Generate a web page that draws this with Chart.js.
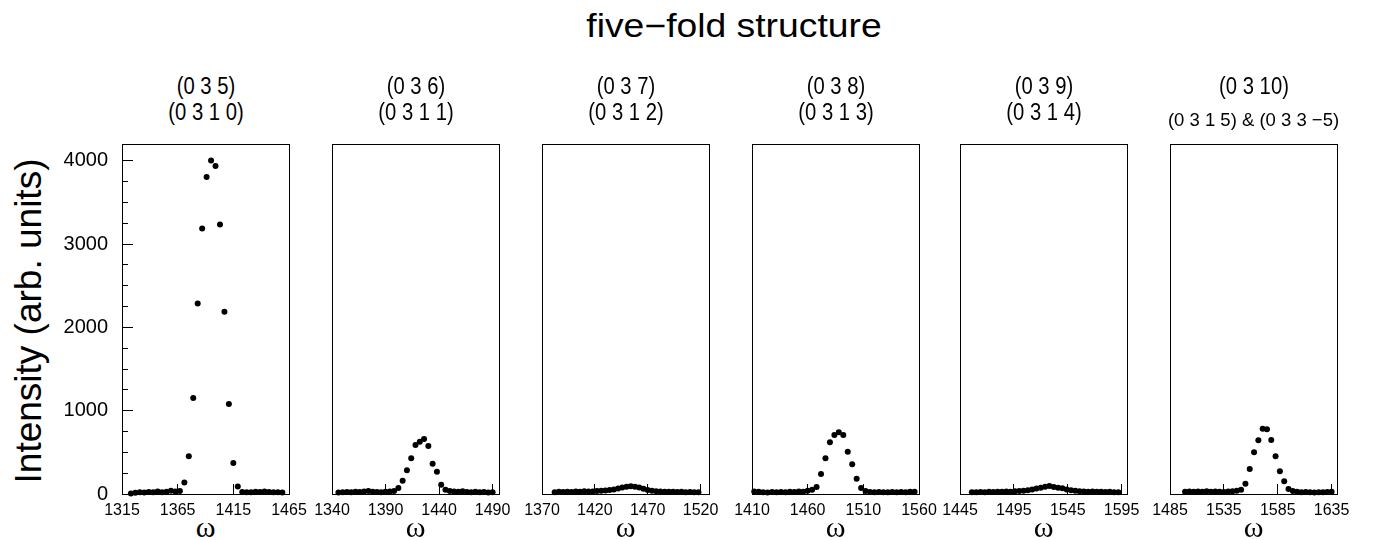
<!DOCTYPE html>
<html>
<head>
<meta charset="utf-8">
<script src="https://cdn.jsdelivr.net/npm/chart.js@4/dist/chart.umd.min.js"></script>
<style>
  html, body { margin:0; padding:0; background:#fff; }
  #wrap { position:relative; width:1375px; height:540px; overflow:hidden; background:#fff; }
  canvas { position:absolute; left:0; top:0; }
  .t { position:absolute; transform:translate(-50%,-50%); white-space:nowrap; line-height:1; color:#000; font-family:"Liberation Sans", Arial, sans-serif; }
  .om { font-family:"Liberation Serif", "DejaVu Serif", serif; font-size:30px; }
</style>
</head>
<body>
<div id="wrap"></div>
<script>
// ---------------- data ----------------
const mainTitle = "five\u2212fold structure";
const yAxisTitle = "Intensity (arb. units)";
const xAxisTitle = "\u03c9";
const panelTitles1 = ["(0 3 5)", "(0 3 6)", "(0 3 7)", "(0 3 8)", "(0 3 9)", "(0 3 10)"];
const panelTitles2 = ["(0 3 1 0)", "(0 3 1 1)", "(0 3 1 2)", "(0 3 1 3)", "(0 3 1 4)", "(0 3 1 5) & (0 3 3 \u22125)"];
const xMins = [1315, 1340, 1370, 1410, 1445, 1485];
const xMaxs = [1465, 1496, 1528, 1560, 1600, 1640];
const xTicks1 = [1315, 1365, 1415, 1465];
const xTicks2 = [1340, 1390, 1440, 1490];
const xTicks3 = [1370, 1420, 1470, 1520];
const xTicks4 = [1410, 1460, 1510, 1560];
const xTicks5 = [1445, 1495, 1545, 1595];
const xTicks6 = [1485, 1535, 1585, 1635];
const yMajorTicks = [0, 1000, 2000, 3000, 4000];
const yMinorTicks = [0, 250, 500, 750, 1000, 1250, 1500, 1750, 2000, 2250, 2500, 2750, 3000, 3250, 3500, 3750, 4000];
const yMin = 0, yMax = 4200;

const omega1 = [1323,1327,1331,1335,1339,1343,1347,1351,1355,1359,1363,1367,1371,1375,1379,1383,1387,1391,1395,1399,1403,1407,1411,1415,1419,1423,1427,1431,1435,1439,1443,1447,1451,1455,1459];
const intensity1 = [5,15,20,18,25,22,30,20,28,38,30,35,139,452,1153,2286,3187,3803,4003,3935,3235,2186,1081,372,91,25,20,22,28,25,30,24,20,22,18];

const omega2 = [1346,1350,1354,1358,1362,1366,1370,1374,1378,1382,1386,1390,1394,1398,1402,1406,1410,1414,1418,1422,1426,1430,1434,1438,1442,1446,1450,1454,1458,1462,1466,1470,1474,1478,1482,1486,1490];
const intensity2 = [18,22,25,20,28,24,30,35,28,25,22,26,30,36,72,160,284,428,588,628,660,576,364,268,112,52,35,30,28,32,25,22,26,20,24,18,22];

const omega3 = [1382,1386,1390,1394,1398,1402,1406,1410,1414,1418,1422,1426,1430,1434,1438,1442,1446,1450,1454,1458,1462,1466,1470,1474,1478,1482,1486,1490,1494,1498,1502,1506,1510,1514,1518];
const intensity3 = [22,26,24,28,25,30,27,32,30,30,35,38,42,48,55,65,78,88,92,88,78,62,48,38,32,30,28,26,28,24,26,22,25,20,22];

const omega4 = [1412,1416,1420,1424,1428,1432,1436,1440,1444,1448,1452,1456,1460,1464,1468,1472,1476,1480,1484,1488,1492,1496,1500,1504,1508,1512,1516,1520,1524,1528,1532,1536,1540,1544,1548,1552,1556];
const intensity4 = [30,28,22,18,25,20,24,22,26,25,30,28,38,52,84,240,428,620,709,740,709,508,356,184,72,35,25,22,24,20,22,25,20,24,22,26,28];

const omega5 = [1456,1460,1464,1468,1472,1476,1480,1484,1488,1492,1496,1500,1504,1508,1512,1516,1520,1524,1528,1532,1536,1540,1544,1548,1552,1556,1560,1564,1568,1572,1576,1580,1584,1588,1592];
const intensity5 = [20,22,25,22,26,24,28,26,30,28,32,35,40,45,55,65,75,88,95,85,75,70,55,45,38,32,30,28,30,26,28,24,26,22,20];

const omega6 = [1499,1503,1507,1511,1515,1519,1523,1527,1531,1535,1539,1543,1547,1551,1555,1559,1563,1567,1571,1575,1579,1583,1587,1591,1595,1599,1603,1607,1611,1615,1619,1623,1627,1631,1635];
const intensity6 = [28,30,26,30,28,32,26,30,28,25,30,32,38,52,124,300,500,644,784,776,648,452,272,152,60,35,28,22,25,20,18,22,20,24,28];

const omegas = [omega1, omega2, omega3, omega4, omega5, omega6];
const intensities = [intensity1, intensity2, intensity3, intensity4, intensity5, intensity6];
const xTickSets = [xTicks1, xTicks2, xTicks3, xTicks4, xTicks5, xTicks6];

// ---------------- layout ----------------
const W = 1375, H = 540;
const boxLefts = [122, 332, 542, 752, 960, 1170];
const boxWidth = 167;
const boxTop = 144, boxBottom = 494;
const xAxisH = 30;
const yAxisW = 60;

const wrap = document.getElementById('wrap');
function addText(txt, cx, cy, css, cls, extraTransform) {
  const d = document.createElement('div');
  d.className = 't' + (cls ? ' ' + cls : '');
  d.textContent = txt;
  d.style.left = cx + 'px';
  d.style.top = cy + 'px';
  Object.assign(d.style, css || {});
  if (extraTransform) d.style.transform = 'translate(-50%,-50%) ' + extraTransform;
  wrap.appendChild(d);
  return d;
}

addText(mainTitle, 734, 25, { fontSize: '33px' }, null, 'scaleX(1.13)');
addText(yAxisTitle, 28, 321, { fontSize: '37px' }, null, 'rotate(-90deg)');

for (let p = 0; p < 6; p++) {
  const left = boxLefts[p], right = left + boxWidth;
  const cx = left + boxWidth / 2;
  addText(panelTitles1[p], cx, 86, { fontSize: '23px' }, null, 'scaleX(0.88)');
  if (p === 5) {
    addText(panelTitles2[p], cx, 120, { fontSize: '18.5px' });
  } else {
    addText(panelTitles2[p], cx, 112, { fontSize: '23px' }, null, 'scaleX(0.88)');
  }
  addText(xAxisTitle, cx, 527, {}, 'om');

  const cv = document.createElement('canvas');
  cv.width = W; cv.height = H;
  cv.style.width = W + 'px'; cv.style.height = H + 'px';
  wrap.appendChild(cv);

  const hasY = p === 0;
  const pts = omegas[p].map((x, i) => ({ x: x, y: intensities[p][i] }));
  const ticksX = xTickSets[p];

  const scales = {
    x: {
      type: 'linear', position: 'bottom', min: xMins[p], max: xMaxs[p],
      afterBuildTicks: s => { s.ticks = ticksX.map(v => ({ value: v })); },
      ticks: { color: '#000', font: { family: 'Liberation Sans', size: 16 }, padding: 17, maxRotation: 0, autoSkip: false, callback: v => String(v) },
      grid: { drawOnChartArea: false, tickLength: -10, color: '#000', lineWidth: 1 },
      border: { color: '#000', width: 1 },
      afterFit: s => { s.height = xAxisH; }
    },
    xTop: {
      type: 'linear', position: 'top', min: xMins[p], max: xMaxs[p],
      ticks: { display: false }, grid: { display: false },
      border: { color: '#000', width: 1 },
      afterFit: s => { s.height = 0; }
    },
    y: {
      type: 'linear', position: 'left', min: yMin, max: yMax, weight: 1,
      afterBuildTicks: s => { s.ticks = yMajorTicks.map(v => ({ value: v })); },
      ticks: { display: hasY, color: '#000', font: { family: 'Liberation Sans', size: 20 }, padding: 25, callback: v => String(v) },
      grid: { display: hasY, drawOnChartArea: false, tickLength: -11, color: '#000', lineWidth: 1 },
      border: { color: '#000', width: 1 },
      afterFit: s => { s.width = hasY ? yAxisW : 0; }
    },
    yMinor: {
      type: 'linear', position: 'left', min: yMin, max: yMax, weight: 0,
      afterBuildTicks: s => { s.ticks = yMinorTicks.map(v => ({ value: v })); },
      ticks: { display: false },
      grid: { display: hasY, drawOnChartArea: false, tickLength: -6, color: '#000', lineWidth: 1 },
      border: { display: false },
      afterFit: s => { s.width = 0; }
    },
    yRight: {
      type: 'linear', position: 'right', min: yMin, max: yMax,
      ticks: { display: false }, grid: { display: false },
      border: { color: '#000', width: 1 },
      afterFit: s => { s.width = 0; }
    }
  };

  new Chart(cv, {
    type: 'scatter',
    data: { datasets: [{ data: pts, pointRadius: 3, pointHoverRadius: 3, pointBackgroundColor: '#000', pointBorderWidth: 0, showLine: false, clip: false }] },
    options: {
      responsive: false, animation: false, devicePixelRatio: 1,
      layout: { padding: { left: left - (hasY ? yAxisW : 0), right: W - right, top: boxTop, bottom: H - boxBottom - xAxisH } },
      plugins: { legend: { display: false }, tooltip: { enabled: false }, title: { display: false } },
      events: [],
      scales: scales
    }
  });
}
</script>
</body>
</html>
